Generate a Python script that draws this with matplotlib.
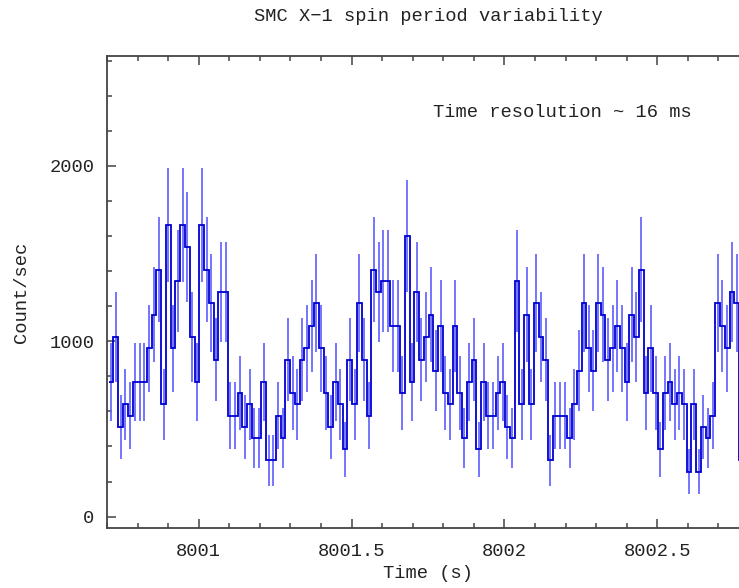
import numpy as np
import matplotlib
matplotlib.use("Agg")
import matplotlib.pyplot as plt
from matplotlib.ticker import MultipleLocator

# ---- data ----
bin_time = 0.015625          # s  (~16 ms bins)
t_first = 8000.7131          # centre of first bin (s)
# counts per 16 ms bin (rate = counts / bin_time)
counts = [12, 16, 8, 10, 9, 12, 12, 12, 15, 18, 22, 10, 26, 15, 21, 26,
          24, 16, 12, 26, 22, 19, 14, 20, 20, 9, 9, 11, 8, 10, 7, 7, 12,
          5, 5, 9, 7, 14, 11, 10, 14, 15, 17, 19, 15, 11, 8, 12, 10, 6,
          14, 10, 19, 14, 9, 22, 20, 21, 21, 17, 17, 11, 25, 12, 20, 14, 16,
          18, 13, 17, 11, 10, 17, 11, 7, 12, 14, 6, 12, 9, 9, 11, 12,
          8, 7, 21, 10, 18, 10, 19, 16, 14, 5, 9, 9, 9, 7, 10, 13, 19,
          15, 13, 19, 18, 14, 15, 17, 15, 12, 18, 16, 22, 11, 15, 11, 6, 11,
          12, 10, 11, 10, 4, 10, 4, 8, 7, 9, 19, 17, 15, 20, 19, 5]

title = "SMC X\u22121 spin period variability"
xlabel = "Time (s)"
ylabel = "Count/sec"
note = "Time resolution ~ 16 ms"
xlim = (8000.70, 8002.80)
ylim = (-65, 2627)

counts = np.array(counts, dtype=float)
n = len(counts)
t = t_first + bin_time * np.arange(n)
edges = t_first - bin_time / 2 + bin_time * np.arange(n + 1)
rate = counts / bin_time
err = np.sqrt(counts) / bin_time   # Poisson errors

W, H = 739, 588
fig = plt.figure(figsize=(W / 100, H / 100), dpi=100)
ax = fig.add_axes([107 / W, 1 - 528 / H, (749 - 107) / W, (528 - 56) / H])

FONT = ["Liberation Mono", "DejaVu Sans Mono", "DejaVu Sans"]
FS = 13.5
txtc = "#222222"

ax.errorbar(t, rate, yerr=err, fmt="none", ecolor="#6464ff",
            elinewidth=1.25, capsize=0, zorder=2)
ax.stairs(rate, edges, baseline=None, color="#0000d0", linewidth=1.3, zorder=3)

ax.set_xlim(*xlim)
ax.set_ylim(*ylim)

ax.xaxis.set_major_locator(MultipleLocator(0.5))
ax.xaxis.set_minor_locator(MultipleLocator(0.1))
ax.yaxis.set_major_locator(MultipleLocator(1000))
ax.yaxis.set_minor_locator(MultipleLocator(200))
ax.xaxis.set_major_formatter(matplotlib.ticker.FuncFormatter(
    lambda v, p: ("%g" % v)))

for sp in ax.spines.values():
    sp.set_color("#444444")
    sp.set_linewidth(1.3)
ax.spines["right"].set_visible(False)

ax.tick_params(which="both", direction="in", top=True, right=False,
               color="#444444", width=1.1, labelcolor=txtc,
               labelsize=FS)
ax.tick_params(which="major", length=6.5)
ax.tick_params(which="minor", length=3.3)
ax.tick_params(axis="x", which="major", pad=10.5)
ax.tick_params(axis="y", which="major", pad=9)
for lab in ax.get_xticklabels() + ax.get_yticklabels():
    lab.set_family(FONT)

ax.set_title(title, family=FONT, fontsize=FS, color=txtc, pad=25)
ax.set_xlabel(xlabel, family=FONT, fontsize=FS, color=txtc, labelpad=4)
ax.set_ylabel(ylabel, family=FONT, fontsize=FS, color=txtc, labelpad=14)
ax.text(8001.766, 2302, note, family=FONT, fontsize=FS, color=txtc,
        ha="left", va="center")

fig.savefig("out.png", dpi=100)
